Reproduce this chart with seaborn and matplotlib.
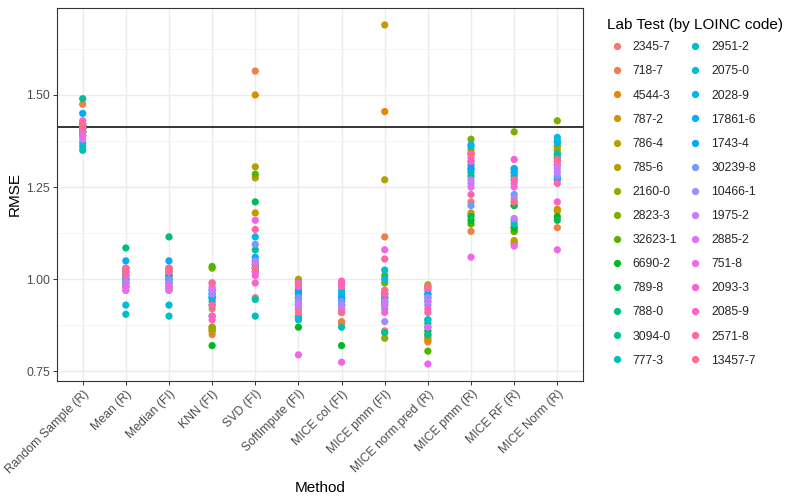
import numpy as np
import pandas as pd
import matplotlib
matplotlib.use("Agg")
import matplotlib.pyplot as plt
from matplotlib.lines import Line2D
from matplotlib.ticker import MultipleLocator, FormatStrFormatter
import seaborn as sns

# Methods on the x axis
methods = ["Random Sample (R)", "Mean (R)", "Median (FI)", "KNN (FI)", "SVD (FI)",
           "SoftImpute (FI)", "MICE col (FI)", "MICE pmm (FI)", "MICE norm.pred (R)",
           "MICE pmm (R)", "MICE RF (R)", "MICE Norm (R)"]

# Lab tests (legend order)
lab_tests = ["2345-7", "718-7", "4544-3", "787-2", "786-4", "785-6", "2160-0",
             "2823-3", "32623-1", "6690-2", "789-8", "788-0", "3094-0", "777-3",
             "2951-2", "2075-0", "2028-9", "17861-6", "1743-4", "30239-8", "10466-1",
             "1975-2", "2885-2", "751-8", "2093-3", "2085-9", "2571-8", "13457-7"]

# RMSE per method, one value per lab test (same order as lab_tests)
rmse_random = [1.42, 1.475, 1.41, 1.40, 1.41, 1.40, 1.41, 1.40, 1.41, 1.40, 1.41, 1.42, 1.49, 1.35,
               1.36, 1.37, 1.41, 1.45, 1.42, 1.39, 1.40, 1.39, 1.38, 1.39, 1.42, 1.43, 1.41, 1.42]
rmse_mean = [1.02, 1.00, 0.99, 0.98, 0.97, 0.98, 0.99, 1.00, 1.01, 1.00, 1.01, 1.085, 1.00, 0.99,
             0.905, 0.93, 1.02, 1.05, 1.03, 1.00, 0.99, 0.98, 0.97, 0.98, 1.03, 1.01, 1.02, 1.03]
rmse_median = [1.02, 1.01, 0.99, 0.98, 0.975, 0.97, 0.99, 1.00, 1.01, 1.00, 1.01, 1.115, 1.00, 0.99,
               0.90, 0.93, 1.02, 1.05, 1.03, 1.00, 0.99, 0.98, 0.97, 0.98, 1.03, 1.02, 1.025, 1.03]
rmse_knn = [0.92, 0.85, 0.87, 0.86, 0.865, 0.86, 0.87, 1.03, 1.035, 0.82, 0.90, 0.93, 0.94, 0.95,
            0.95, 0.96, 0.95, 0.96, 0.97, 0.97, 0.96, 0.975, 0.98, 0.99, 0.90, 0.89, 0.93, 0.99]
rmse_svd = [0.95, 1.565, 1.50, 1.18, 1.275, 1.305, 1.04, 1.03, 1.285, 1.02, 1.21, 1.05, 1.08, 0.945,
            0.90, 1.04, 1.115, 1.06, 1.03, 1.095, 1.05, 1.045, 1.02, 1.16, 1.01, 0.99, 1.135, 1.03]
rmse_soft = [0.94, 0.93, 0.95, 0.96, 0.97, 1.00, 0.995, 0.94, 0.95, 0.87, 0.93, 0.95, 0.92, 0.90,
             0.89, 0.895, 0.96, 0.97, 0.965, 0.95, 0.94, 0.93, 0.92, 0.795, 0.99, 0.985, 0.98, 0.91]
rmse_mice_col = [0.88, 0.885, 0.93, 0.92, 0.94, 0.95, 0.93, 0.94, 0.96, 0.82, 0.93, 0.92, 0.91, 0.87,
                 0.97, 0.985, 0.96, 0.95, 0.945, 0.94, 0.93, 0.92, 0.915, 0.775, 0.99, 0.995, 0.98, 0.91]
rmse_mice_pmm_fi = [0.86, 1.115, 1.455, 0.97, 1.69, 1.27, 0.84, 0.99, 1.01, 0.96, 0.95, 0.94, 0.855, 0.93,
                    0.95, 1.025, 1.00, 0.96, 0.935, 0.92, 0.885, 0.94, 0.93, 1.08, 0.91, 0.96, 1.055, 0.97]
rmse_mice_normpred = [0.97, 0.83, 0.835, 0.84, 0.845, 0.985, 0.98, 0.85, 0.805, 0.86, 0.87, 0.88, 0.85, 0.89,
                      0.89, 0.96, 0.95, 0.96, 0.94, 0.93, 0.95, 0.94, 0.87, 0.77, 0.975, 0.92, 0.91, 0.98]
rmse_mice_pmm_r = [1.21, 1.13, 1.34, 1.35, 1.18, 1.175, 1.34, 1.38, 1.15, 1.16, 1.17, 1.28, 1.29, 1.30,
                   1.31, 1.36, 1.365, 1.32, 1.30, 1.20, 1.26, 1.27, 1.25, 1.06, 1.33, 1.32, 1.23, 1.34]
rmse_mice_rf = [1.21, 1.20, 1.14, 1.10, 1.105, 1.095, 1.13, 1.40, 1.13, 1.14, 1.20, 1.28, 1.29, 1.15,
                1.16, 1.30, 1.29, 1.30, 1.27, 1.23, 1.22, 1.165, 1.25, 1.09, 1.325, 1.26, 1.27, 1.21]
rmse_mice_norm = [1.32, 1.14, 1.19, 1.36, 1.185, 1.35, 1.36, 1.43, 1.34, 1.17, 1.16, 1.31, 1.33, 1.34,
                  1.37, 1.385, 1.375, 1.27, 1.275, 1.28, 1.30, 1.29, 1.31, 1.08, 1.21, 1.32, 1.26, 1.325]

all_rmse = [rmse_random, rmse_mean, rmse_median, rmse_knn, rmse_svd, rmse_soft, rmse_mice_col,
            rmse_mice_pmm_fi, rmse_mice_normpred, rmse_mice_pmm_r, rmse_mice_rf, rmse_mice_norm]

ref_line = np.sqrt(2)


def hcl_to_hex(h, c, l):
    # polar LUV -> sRGB (same as R's hcl())
    hr = np.deg2rad(h)
    u, v = c * np.cos(hr), c * np.sin(hr)
    xn, yn, zn = 95.047, 100.0, 108.883
    un = 4 * xn / (xn + 15 * yn + 3 * zn)
    vn = 9 * yn / (xn + 15 * yn + 3 * zn)
    y = yn * ((l + 16) / 116) ** 3 if l > 8 else yn * l / 903.3
    up = u / (13 * l) + un
    vp = v / (13 * l) + vn
    x = 9.0 * y * up / (4 * vp)
    z = -x / 3 - 5 * y + 3 * y / vp
    xyz = np.array([x, y, z]) / 100
    m = np.array([[3.240479, -1.537150, -0.498535],
                  [-0.969256, 1.875992, 0.041556],
                  [0.055648, -0.204043, 1.057311]])
    rgb = m @ xyz
    rgb = np.where(rgb > 0.00304, 1.055 * np.power(np.clip(rgb, 1e-9, None), 1 / 2.4) - 0.055, 12.92 * rgb)
    rgb = np.clip(rgb, 0, 1)
    return "#%02X%02X%02X" % tuple(int(round(ch * 255)) for ch in rgb)


n = len(lab_tests)
palette = [hcl_to_hex(15 + i * 360 / n, 100, 65) for i in range(n)]

rows = []
for m, vals in zip(methods, all_rmse):
    for lab, v in zip(lab_tests, vals):
        rows.append({"Method": m, "Lab": lab, "RMSE": v})
df = pd.DataFrame(rows)

sns.set_theme(style="white")
plt.rcParams["font.family"] = ["Liberation Sans", "DejaVu Sans"]

fig = plt.figure(figsize=(8, 5), dpi=100)
ax = fig.add_axes([0.071, 0.238, 0.658, 0.746])

sns.stripplot(data=df, x="Method", y="RMSE", hue="Lab", order=methods, hue_order=lab_tests,
              palette=palette, jitter=False, dodge=False, size=5.2, linewidth=0, ax=ax,
              legend=False, zorder=3)

ax.axhline(ref_line, color="black", lw=1.1, zorder=2)

# ggplot-like limits and grid
lo, hi = df["RMSE"].min(), df["RMSE"].max()
pad = (hi - lo) * 0.05
ax.set_ylim(lo - pad, hi + pad)
ax.set_xlim(-0.6, len(methods) - 0.4)

ax.yaxis.set_major_locator(MultipleLocator(0.25))
ax.yaxis.set_minor_locator(MultipleLocator(0.125))
ax.yaxis.set_major_formatter(FormatStrFormatter("%.2f"))
ax.grid(True, which="major", color="#EBEBEB", lw=1.0, zorder=0)
ax.grid(True, which="minor", axis="y", color="#F2F2F2", lw=0.6, zorder=0)
ax.set_axisbelow(True)
for s in ax.spines.values():
    s.set_color("#333333")
    s.set_linewidth(0.8)

ax.tick_params(axis="both", which="major", direction="out", length=3, width=0.7,
               color="#333333", labelcolor="#4D4D4D", labelsize=8.8, pad=2,
               bottom=True, left=True)
ax.tick_params(axis="y", which="minor", length=0, left=False)
plt.setp(ax.get_xticklabels(), rotation=45, ha="right", va="top", rotation_mode="anchor")

ax.set_xlabel("Method", fontsize=11, color="black", labelpad=4)
ax.set_ylabel("RMSE", fontsize=11, color="black", labelpad=3)

# legend: title as separate text, entries in two columns
fig.text(0.759, 0.95, "Lab Test (by LOINC code)", fontsize=11, color="black",
         ha="left", va="center")
handles = [Line2D([0], [0], marker="o", linestyle="", markersize=5.2, markerfacecolor=c,
                  markeredgewidth=0) for c in palette]
fig.legend(handles, lab_tests, ncol=2, loc="upper left", bbox_to_anchor=(0.757, 0.927),
           frameon=False, fontsize=8.8, handlelength=1.0, handletextpad=0.8,
           columnspacing=1.0, labelspacing=0.99, borderaxespad=0)

fig.savefig("out.png", dpi=100)
